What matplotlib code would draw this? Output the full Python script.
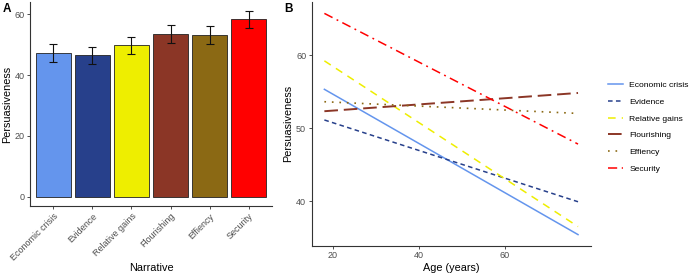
import matplotlib
matplotlib.use("Agg")
import matplotlib.pyplot as plt
import numpy as np

plt.rcParams['font.family'] = ['Liberation Sans', 'DejaVu Sans']

narratives = ['Economic crisis', 'Evidence', 'Relative gains', 'Flourishing', 'Effiency', 'Security']
means = [47.2, 46.6, 49.9, 53.5, 53.1, 58.4]
errs = [2.9, 2.8, 2.8, 2.9, 2.9, 2.8]
age_range = [18, 77]
pred_start = [55.3, 51.1, 59.2, 52.3, 53.6, 65.7]
pred_end = [35.4, 39.9, 36.5, 54.8, 52.0, 47.8]
a_yticks = [0, 20, 40, 60]
b_yticks = [40, 50, 60]
b_xticks = [20, 40, 60]

colors = ['#6495ED', '#27408B', '#EEEE00', '#8B3626', '#8B6914', '#FF0000']
dash_styles = [None, (3, 2.2), (5, 4), (7, 3), (1, 3.5), (6, 3, 1.2, 3)]
widths = [1.1, 1.1, 1.1, 1.4, 1.2, 1.1]

W, H = 690, 275
fig = plt.figure(figsize=(W / 100, H / 100), dpi=100)

def frac(l, t, r, b):
    return [l / W, 1 - b / H, (r - l) / W, (b - t) / H]

axis_col = '#333333'
tick_col = '#4D4D4D'

def style(ax):
    for s in ['top', 'right']:
        ax.spines[s].set_visible(False)
    for s in ['left', 'bottom']:
        ax.spines[s].set_color(axis_col)
        ax.spines[s].set_linewidth(0.8)
    ax.tick_params(colors=tick_col, labelcolor=tick_col, labelsize=6.5, length=2.5, width=0.7, pad=1.5)

# Panel A
axA = fig.add_axes(frac(30, 2, 272, 206))
x = np.arange(len(narratives))
axA.bar(x, means, width=0.9, color=colors, edgecolor='#222222', linewidth=0.6, zorder=2)
axA.errorbar(x, means, yerr=errs, fmt='none', ecolor='#111111', elinewidth=0.8, capsize=3, capthick=0.8, zorder=3)
axA.set_xlim(-0.6, len(narratives) - 0.4)
axA.set_ylim(-3.05, 64.05)
axA.set_yticks(a_yticks)
axA.set_xticks(x)
axA.set_xticklabels(narratives, rotation=45, ha='right', va='top', rotation_mode='anchor')
style(axA)
axA.set_ylabel('Persuasiveness', fontsize=7.8)
axA.set_xlabel('Narrative', fontsize=7.8)
axA.yaxis.set_label_coords(-0.074, 0.5)
axA.xaxis.set_label_coords(0.5, -0.279)

# Panel B
axB = fig.add_axes(frac(311.7, 2, 590.7, 245.7))
handles = []
for i, name in enumerate(narratives):
    ln, = axB.plot(age_range, [pred_start[i], pred_end[i]], color=colors[i], lw=widths[i], label=name)
    if dash_styles[i] is not None:
        ln.set_dashes(dash_styles[i])
    handles.append(ln)
axB.set_xlim(15.05, 79.95)
axB.set_ylim(33.88, 67.26)
axB.set_yticks(b_yticks)
axB.set_xticks(b_xticks)
style(axB)
axB.set_ylabel('Persuasiveness', fontsize=7.8)
axB.set_xlabel('Age (years)', fontsize=7.8)
axB.yaxis.set_label_coords(-0.068, 0.5)
axB.xaxis.set_label_coords(0.5, -0.069)

fig.legend(handles=handles, loc='upper left', bbox_to_anchor=(608 / W, 1 - 81 / H),
           frameon=False, fontsize=6.1, handlelength=1.75, handletextpad=0.75,
           labelspacing=1.05, borderpad=0, borderaxespad=0)

fig.text(3 / W, 1 - 3 / H, 'A', fontsize=8.5, fontweight='bold', va='top', ha='left')
fig.text(284 / W, 1 - 3 / H, 'B', fontsize=8.5, fontweight='bold', va='top', ha='left')

fig.savefig('out.png', dpi=100)
